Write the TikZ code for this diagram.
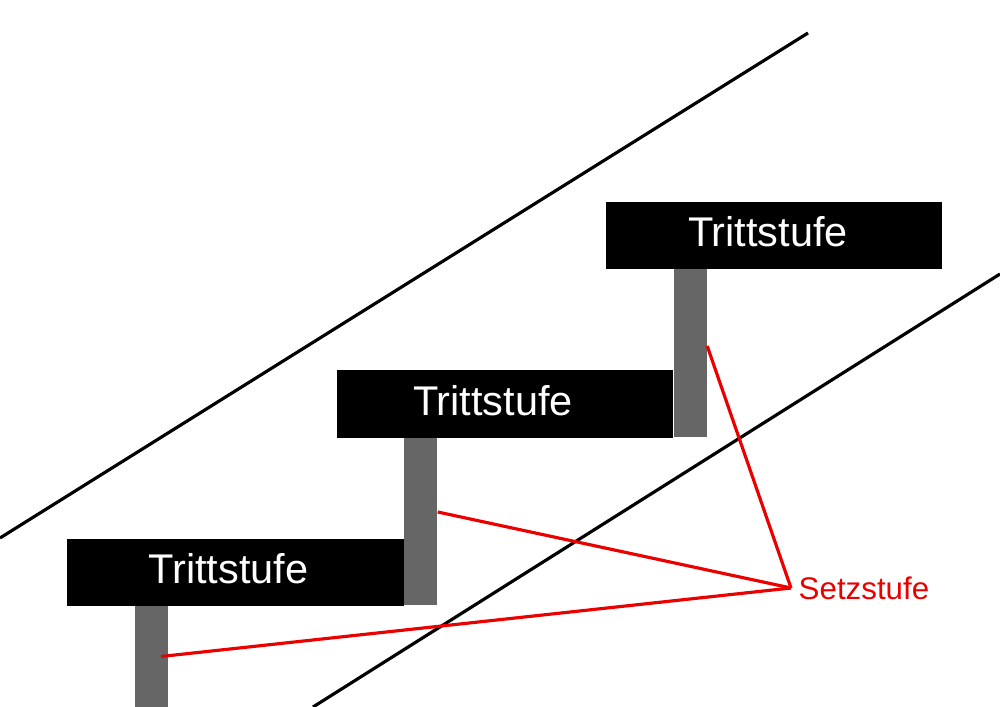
\documentclass[tikz,border=0pt]{standalone}
\usepackage{fontspec}
\setmainfont{Liberation Sans}
\usepackage{xcolor}
\usetikzlibrary{positioning}

\definecolor{riserGray}{RGB}{102,102,102}
\definecolor{hintRed}{RGB}{235,0,0}

\tikzset{
  tread/.style={fill=black, text=white, inner sep=0pt, minimum width=3.36cm, minimum height=0.67cm,
    text depth=0.22em, font=\fontsize{11.8}{12}\selectfont},
  riser/.style={fill=riserGray, inner sep=0pt, minimum width=0.33cm},
  rail/.style={black, line width=0.9pt},
  pointer/.style={hintRed, line width=0.9pt},
}

\begin{document}
\begin{tikzpicture}[x=0.01cm, y=-0.01cm]
    \useasboundingbox (0,0) rectangle (1000,707);

    % stair limits
    \draw[rail] (0,538) -- (808,33);
    \draw[rail] (313,707) -- (1000,274);

    % risers
    \node[riser, minimum height=1.01cm] (riser1) at (151.5,656.5) {};
    \node[riser, minimum height=1.68cm] (riser2) at (420.5,521) {};
    \node[riser, minimum height=1.68cm] (riser3) at (690,353) {};

    % treads
    \node[tread] (tread1) at (235.5,572.5) {\hspace*{-0.14cm}Trittstufe};
    \node[tread] (tread2) at (505,404) {\hspace*{-0.24cm}Trittstufe};
    \node[tread] (tread3) at (774,235.5) {\hspace*{-0.12cm}Trittstufe};

    % label
    \node[hintRed, anchor=west, inner sep=2pt, font=\fontsize{8.9}{10}\selectfont] (setz) at (791,588) {Setzstufe};
    \draw[pointer] ([xshift=0.095cm]riser1.center) -- (setz.west);
    \draw[pointer] ([yshift=0.09cm]riser2.east) -- (setz.west);
    \draw[pointer] ([yshift=0.07cm]riser3.east) -- (setz.west);
\end{tikzpicture}
\end{document}
